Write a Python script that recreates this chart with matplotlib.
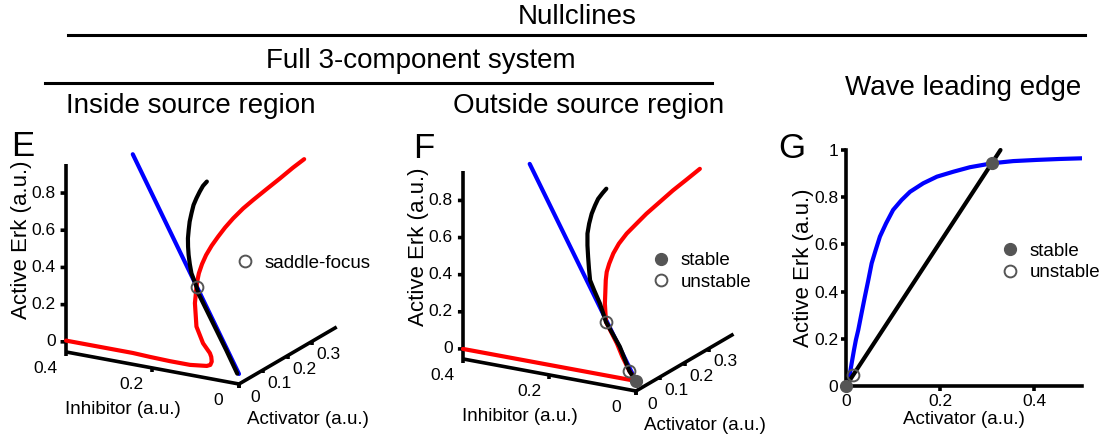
import numpy as np
import matplotlib
matplotlib.use("Agg")
import matplotlib.pyplot as plt
from matplotlib.lines import Line2D

plt.rcParams['font.family'] = ['Liberation Sans', 'DejaVu Sans']

W, H = 1115, 440
DPI = 100

# ---------------- data ----------------
# 3-component system: (activator, inhibitor, active Erk) along each nullcline

# inside source region
in_blue_act = [0.0, 0.268]
in_blue_inh = [0.0, 0.396]
in_blue_erk = [0.0, 0.805]

in_black_erk = [0.750, 0.730, 0.704, 0.675, 0.646, 0.611, 0.576, 0.542, 0.508, 0.474, 0.441,
                0.405, 0.370, 0.3195, 0.294, 0.172, 0.087, 0.0]
in_black_inh = [0.215, 0.220, 0.223, 0.225, 0.226, 0.2245, 0.222, 0.218, 0.213, 0.2065, 0.199,
                0.1895, 0.179, 0.158, 0.149, 0.088, 0.046, 0.004]
in_black_act = [0.250, 0.243, 0.235, 0.225, 0.215, 0.204, 0.192, 0.181, 0.169, 0.158, 0.147,
                0.135, 0.123, 0.1065, 0.098, 0.057, 0.029, 0.0]

in_red_erk = [0.005, 0.005, 0.005, 0.002, 0.0, 0.0, 0.008, 0.015, 0.029, 0.048, 0.062, 0.097,
              0.159, 0.252, 0.3195, 0.348, 0.375, 0.415, 0.454, 0.496, 0.537, 0.578, 0.622,
              0.669, 0.710, 0.764, 0.817, 0.870, 0.913]
in_red_inh = [0.400, 0.322, 0.246, 0.206, 0.159, 0.113, 0.076, 0.069, 0.0685, 0.073, 0.079, 0.101,
              0.128, 0.149, 0.158, 0.161, 0.163, 0.163, 0.161, 0.156, 0.149, 0.141, 0.130,
              0.116, 0.101, 0.080, 0.059, 0.039, 0.021]
in_red_act = [0.002, 0.002, 0.002, 0.001, 0.0, 0.0, 0.003, 0.005, 0.010, 0.016, 0.021, 0.032,
              0.053, 0.084, 0.1065, 0.116, 0.125, 0.138, 0.151, 0.165, 0.179, 0.193, 0.207,
              0.223, 0.237, 0.255, 0.272, 0.290, 0.304]

in_saddle = (0.1065, 0.158, 0.3195)

# outside source region
out_blue_act = [0.0, 0.265]
out_blue_inh = [0.0, 0.395]
out_blue_erk = [0.0, 0.796]

out_black_erk = [0.753, 0.732, 0.706, 0.677, 0.641, 0.599, 0.558, 0.511, 0.464, 0.418, 0.372,
                 0.335, 0.286, 0.216, 0.126, 0.035, 0.0]
out_black_inh = [0.210, 0.215, 0.220, 0.222, 0.223, 0.221, 0.217, 0.208, 0.198, 0.187, 0.176,
                 0.160, 0.137, 0.110, 0.061, 0.022, 0.0]
out_black_act = [0.251, 0.244, 0.235, 0.226, 0.214, 0.200, 0.186, 0.170, 0.155, 0.139, 0.124,
                 0.112, 0.095, 0.072, 0.042, 0.012, 0.0]

out_red_erk = [0.903, 0.849, 0.796, 0.739, 0.682, 0.635, 0.587, 0.541, 0.497, 0.453, 0.418,
               0.384, 0.335, 0.289, 0.216, 0.137, 0.090, 0.035, 0.0, 0.0, 0.0]
out_red_inh = [0.022, 0.043, 0.064, 0.084, 0.104, 0.118, 0.132, 0.141, 0.146, 0.147, 0.146,
               0.142, 0.134, 0.126, 0.110, 0.070, 0.049, 0.022, 0.0, 0.2, 0.4]
out_red_act = [0.301, 0.283, 0.265, 0.246, 0.227, 0.212, 0.196, 0.180, 0.166, 0.151, 0.139,
               0.128, 0.112, 0.096, 0.072, 0.046, 0.030, 0.012, 0.0, 0.0, 0.0]

out_stable = (0.0, 0.0, 0.0)
out_unstable_act = [0.072, 0.012]
out_unstable_inh = [0.110, 0.022]
out_unstable_erk = [0.216, 0.035]

# wave leading edge (2-component reduction)
wave_blue_act = [0.0, 0.005, 0.0085, 0.012, 0.017, 0.021, 0.026, 0.033, 0.040, 0.0474, 0.0545,
                 0.063, 0.072, 0.085, 0.100, 0.118, 0.136, 0.164, 0.193, 0.228, 0.263, 0.311,
                 0.355, 0.405, 0.454, 0.504]
wave_blue_erk = [0.0, 0.011, 0.054, 0.096, 0.153, 0.195, 0.237, 0.308, 0.378, 0.449, 0.520,
                 0.576, 0.633, 0.689, 0.746, 0.788, 0.823, 0.859, 0.887, 0.908, 0.927, 0.944,
                 0.953, 0.958, 0.962, 0.965]
wave_black_act = [0.0, 0.328]
wave_black_erk = [0.0, 1.0]
wave_stable_act = [0.0, 0.311]
wave_stable_erk = [0.0, 0.944]
wave_unstable_act = [0.014]
wave_unstable_erk = [0.047]

erk_ticks = [0, 0.2, 0.4, 0.6, 0.8]
inh_ticks = [0, 0.2, 0.4]
act_ticks = [0, 0.1, 0.2, 0.3]
wave_xticks = [0, 0.2, 0.4]
wave_yticks = [0, 0.2, 0.4, 0.6, 0.8, 1.0]


def tick_text(v):
    return '0' if v == 0 else ('1' if v == 1 else f'{v:g}')


# ---------------- layout ----------------
fig = plt.figure(figsize=(W / DPI, H / DPI), dpi=DPI)


def fx(px):
    return px / W


def fy(py):
    return 1 - py / H


GREY = '#555555'
LW = 3.0
AX_LW = 2.6
TICK_FS = 12.5
LABEL_FS = 13.5
YLABEL_FS = 16
TITLE_FS = 20

# header titles and rules
fig.text(fx(577), fy(17), 'Nullclines', ha='center', va='center', fontsize=TITLE_FS)
fig.add_artist(Line2D([fx(68), fx(1085)], [fy(35), fy(35)], color='k', lw=2.2,
                      transform=fig.transFigure))
fig.text(fx(421), fy(61), 'Full 3-component system', ha='center', va='center', fontsize=TITLE_FS)
fig.add_artist(Line2D([fx(45), fx(712)], [fy(83), fy(83)], color='k', lw=2.2,
                      transform=fig.transFigure))
fig.text(fx(191), fy(106), 'Inside source region', ha='center', va='center', fontsize=TITLE_FS)
fig.text(fx(589), fy(106), 'Outside source region', ha='center', va='center', fontsize=TITLE_FS)
fig.text(fx(963), fy(88), 'Wave leading edge', ha='center', va='center', fontsize=TITLE_FS)

fig.text(fx(23), fy(146), 'E', ha='center', va='center', fontsize=25)
fig.text(fx(424), fy(148), 'F', ha='center', va='center', fontsize=25)
fig.text(fx(792), fy(148), 'G', ha='center', va='center', fontsize=25)

ZMIN, ZMAX = -0.054, 0.957
AMAX, IMAX = 0.4, 0.4


def proj2d(ax, x, y, z):
    M = ax.get_proj()
    p = M @ np.array([x, y, z, 1.0])
    return p[0] / p[3], p[1] / p[3]


def to_px(ax, x, y, z):
    d = ax.transData.transform(proj2d(ax, x, y, z))
    return d[0], H - d[1]


def make_3d(x0, top, size, origin_px, erk_len):
    rect = [fx(x0), fy(top + size), size / W, size / H]
    ax = fig.add_axes(rect, projection='3d', computed_zorder=False)
    ax.set_proj_type('ortho')
    ax.view_init(elev=19.2, azim=-150.6)
    ax.set_xlim(0, AMAX)
    ax.set_ylim(0, IMAX)
    ax.set_zlim(ZMIN, ZMAX)
    ax.set_box_aspect((1, 1, 1))
    ax.set_axis_off()
    ax.set_facecolor('none')
    # scale the box so the Erk axis has the wanted length, then move it into place
    fig.canvas.draw()
    _, v0 = to_px(ax, 0, IMAX, ZMIN)
    _, v1 = to_px(ax, 0, IMAX, ZMAX)
    ax.set_box_aspect((1, 1, 1), zoom=erk_len / (v0 - v1))
    fig.canvas.draw()
    uo, vo = to_px(ax, 0, 0, ZMIN)
    rect[0] += (origin_px[0] - uo) / W
    rect[1] -= (origin_px[1] - vo) / H
    ax.set_position(rect)
    fig.canvas.draw()
    return ax


def label3d(ax, x, y, z, s, **kw):
    # text anchored at the projected position of a 3D point
    px_, py_ = proj2d(ax, x, y, z)
    return ax.text2D(px_, py_, s, transform=ax.transData, **kw)


def draw_frame(ax):
    kw = dict(color='k', lw=AX_LW, solid_capstyle='butt', zorder=1)
    ax.plot([0, 0], [IMAX, IMAX], [ZMIN, ZMAX], **kw)
    ax.plot([0, 0], [0, IMAX], [ZMIN, ZMIN], **kw)
    ax.plot([0, AMAX], [0, 0], [ZMIN, ZMIN], **kw)
    for t in erk_ticks:
        ax.plot([0, -0.0049], [IMAX, IMAX + 0.0088], [t, t], **kw)
        label3d(ax, -0.0098, IMAX + 0.0175, t, tick_text(t), ha='right', va='center',
                fontsize=TICK_FS)
    for t in inh_ticks:
        ax.plot([0, 0], [t, t], [ZMIN, ZMIN - 0.02], **kw)
        label3d(ax, -0.0833, t, ZMIN - 0.0274, tick_text(t), ha='center', va='center',
                fontsize=TICK_FS)
    for t in act_ticks:
        ax.plot([t, t], [0, 0], [ZMIN, ZMIN - 0.02], **kw)
        label3d(ax, t, -0.038, ZMIN - 0.057, tick_text(t), ha='center', va='center',
                fontsize=TICK_FS)
    label3d(ax, -0.122, 0.2, ZMIN - 0.132, 'Inhibitor (a.u.)', ha='center', va='center',
            fontsize=LABEL_FS)
    label3d(ax, 0.2, -0.046, ZMIN - 0.322, 'Activator (a.u.)', ha='center', va='center',
            fontsize=LABEL_FS)
    label3d(ax, -0.0431, IMAX + 0.0774, 0.55, 'Active Erk (a.u.)', rotation=90, ha='center',
            va='center', fontsize=YLABEL_FS)


curve_kw = dict(lw=LW, solid_capstyle='round', solid_joinstyle='round')
open_kw = dict(ls='none', marker='o', ms=8.5, mfc='none', mec=GREY, mew=1.4)
fill_kw = dict(ls='none', marker='o', ms=8.5, mfc=GREY, mec=GREY, mew=1.0)
leg_kw = dict(loc='center left', bbox_transform=fig.transFigure, frameon=False, fontsize=LABEL_FS,
              handlelength=1.0, handletextpad=0.55, borderpad=0, borderaxespad=0,
              labelspacing=0.25)

# ---- panel E ----
axE = make_3d(-10, 80, 400, (239, 384), 188)
draw_frame(axE)
axE.plot(in_blue_act, in_blue_inh, in_blue_erk, color='blue', zorder=2, **curve_kw)
axE.plot(in_red_act, in_red_inh, in_red_erk, color='red', zorder=3, **curve_kw)
axE.plot(in_black_act, in_black_inh, in_black_erk, color='k', zorder=4, **curve_kw)
hE = axE.plot([in_saddle[0]], [in_saddle[1]], [in_saddle[2]], zorder=6, label='saddle-focus',
              **open_kw)
fig.legend(handles=hE, bbox_to_anchor=(fx(245 - 9.7), fy(263)), **leg_kw)

# ---- panel F ----
axF = make_3d(390, 80, 400, (636, 391), 187.6)
draw_frame(axF)
axF.plot(out_blue_act, out_blue_inh, out_blue_erk, color='blue', zorder=2, **curve_kw)
axF.plot(out_red_act, out_red_inh, out_red_erk, color='red', zorder=3, **curve_kw)
axF.plot(out_black_act, out_black_inh, out_black_erk, color='k', zorder=4, **curve_kw)
hs = axF.plot([out_stable[0]], [out_stable[1]], [out_stable[2]], zorder=6, label='stable',
              **fill_kw)
hu = axF.plot(out_unstable_act, out_unstable_inh, out_unstable_erk, zorder=6, label='unstable',
              **open_kw)
fig.legend(handles=hs + hu, bbox_to_anchor=(fx(661 - 9.7), fy(271.5)), **leg_kw)

# ---- panel G ----
axG = fig.add_axes([fx(846), fy(386), (1081.5 - 846) / W, (386 - 150) / H])
axG.plot(wave_blue_act, wave_blue_erk, color='blue', **curve_kw)
axG.plot(wave_black_act, wave_black_erk, color='k', clip_on=False, **curve_kw)
gs = axG.plot(wave_stable_act, wave_stable_erk, clip_on=False, zorder=6, label='stable',
              **fill_kw)
gu = axG.plot(wave_unstable_act, wave_unstable_erk, clip_on=False, zorder=6, label='unstable',
              **open_kw)
axG.set_xlim(0, 0.5)
axG.set_ylim(0, 1.0)
axG.set_xticks(wave_xticks, [tick_text(v) for v in wave_xticks])
axG.set_yticks(wave_yticks, [tick_text(v) for v in wave_yticks])
for s in ('top', 'right'):
    axG.spines[s].set_visible(False)
for s in ('left', 'bottom'):
    axG.spines[s].set_linewidth(AX_LW)
axG.tick_params(direction='out', length=3.5, width=AX_LW, labelsize=TICK_FS, pad=2)
axG.set_xlabel('Activator (a.u.)', fontsize=LABEL_FS, labelpad=2)
axG.set_ylabel('Active Erk (a.u.)', fontsize=YLABEL_FS, labelpad=0)
axG.set_facecolor('none')
axG.legend(handles=gs + gu, bbox_to_anchor=(fx(1010 - 9.7), fy(262)), **leg_kw)

fig.savefig('out.png', dpi=DPI)
